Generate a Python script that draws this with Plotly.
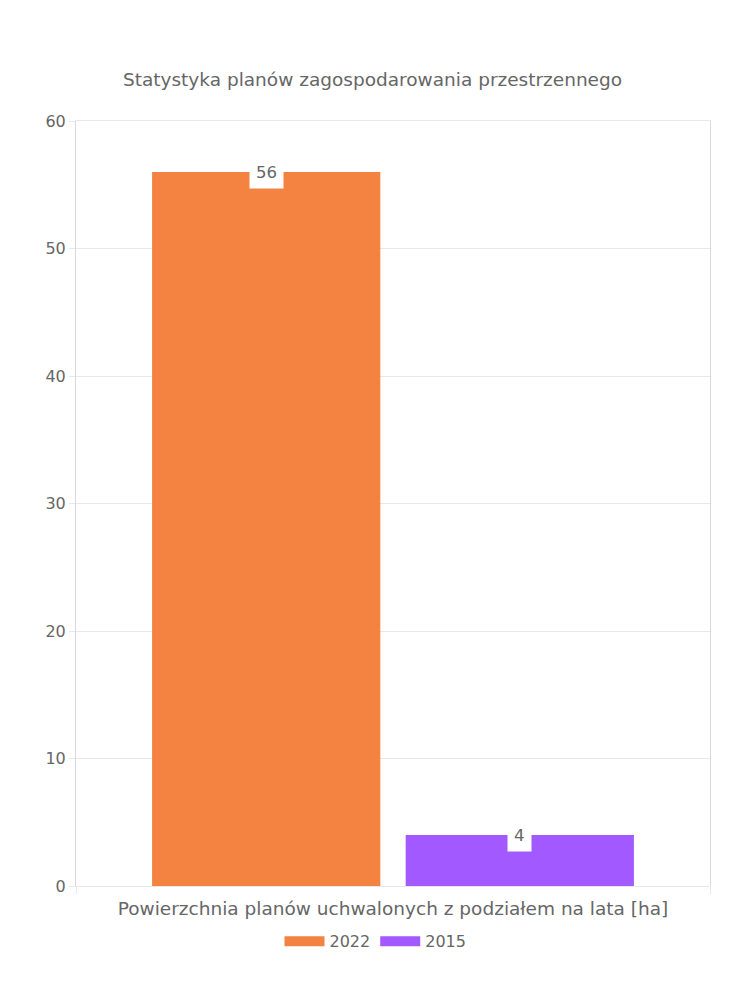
import plotly.graph_objects as go

categories = ["Powierzchnia planów uchwalonych z podziałem na lata [ha]"]
series_names = ["2022", "2015"]
series_values = [[56], [4]]
series_colors = ["#F48240", "#A259FF"]
y_ticks = [0, 10, 20, 30, 40, 50, 60]
title_text = "Statystyka planów zagospodarowania przestrzennego"

FONT = "'DejaVu Sans', sans-serif"
TXT = "#666666"
GRID = "#e8e8e8"

fig = go.Figure()
for name, vals, col in zip(series_names, series_values, series_colors):
    fig.add_trace(go.Bar(
        x=categories, y=vals, name=name,
        marker=dict(color=col, line=dict(width=0)),
        hoverinfo="skip", showlegend=False,
    ))
# legend entries drawn as wide boxes
for name, col in zip(series_names, series_colors):
    fig.add_trace(go.Scatter(
        x=[None], y=[None], name=name, mode="lines",
        line=dict(color=col, width=18), hoverinfo="skip",
    ))

# data labels as white boxes centred on bar tops
n = len(series_names)
group = 0.8
slot = group / n
for i, vals in enumerate(series_values):
    off = (i - (n - 1) / 2) * slot
    for ci, v in enumerate(vals):
        fig.add_annotation(
            x=ci + off, y=v, xref="x", yref="y",
            text=str(v), showarrow=False,
            bgcolor="white", borderpad=6,
            font=dict(family=FONT, size=16.5, color=TXT),
        )

fig.update_layout(
    width=750, height=1000,
    paper_bgcolor="white", plot_bgcolor="white",
    margin=dict(l=68, r=48, t=113, b=122),
    barmode="group", bargap=0.2, bargroupgap=0.1,
    font=dict(family=FONT, color=TXT, size=16),
    title=dict(text=title_text, x=0.486, xanchor="center",
               y=1 - 72 / 1000, yanchor="middle",
               font=dict(family=FONT, size=18.5, color=TXT)),
    showlegend=True,
    legend=dict(orientation="h", x=0.4724, xanchor="center",
                y=-0.050, yanchor="top", itemwidth=40,
                font=dict(family=FONT, size=16, color=TXT)),
)
fig.update_xaxes(
    type="category", tickson="boundaries",
    showgrid=True, gridcolor=GRID, gridwidth=1,
    ticks="outside", ticklen=7, tickcolor=GRID,
    showline=True, mirror=True, linecolor=GRID, zeroline=False,
    ticklabelstandoff=6,
    tickfont=dict(family=FONT, size=18.5, color=TXT),
)
fig.update_yaxes(
    range=[0, 60], tickvals=y_ticks,
    showgrid=True, gridcolor=GRID, gridwidth=1,
    ticks="outside", ticklen=6, tickcolor=GRID,
    showline=True, linecolor="#d9d9d9", linewidth=1, mirror=True,
    zeroline=False,
    tickfont=dict(family=FONT, size=16, color=TXT),
)

fig.write_html("out.html")
